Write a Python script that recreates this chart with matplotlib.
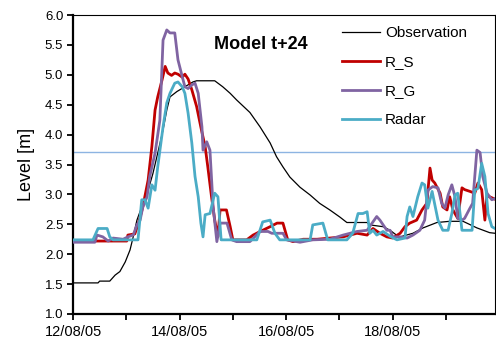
from datetime import datetime, timedelta

import matplotlib
matplotlib.use("Agg")
import matplotlib.pyplot as plt


START = datetime(2005, 8, 12)
END_DAYS = 7.92
THRESHOLD = 3.71

# days since 12/08/05 00:00, level in m
obs_t = [0, 0.47, 0.5, 0.69, 0.79, 0.88, 0.98, 1.07, 1.13, 1.2, 1.29, 1.41, 1.5, 1.59, 1.69,
         1.76, 1.82, 1.95, 2.1, 2.25, 2.32, 2.66, 2.81, 2.95, 3.07, 3.32, 3.51, 3.7, 3.82, 3.94,
         4.07, 4.26, 4.45, 4.63, 4.82, 5.01, 5.14, 5.52, 5.57, 5.82, 5.95, 6.07, 6.14, 6.38,
         6.57, 6.83, 7.07, 7.32, 7.58, 7.82, 7.92]
obs_v = [1.52, 1.52, 1.55, 1.55, 1.65, 1.71, 1.87, 2.07, 2.29, 2.57, 2.79, 3.07, 3.35, 3.69, 4.08,
         4.41, 4.63, 4.72, 4.8, 4.88, 4.9, 4.9, 4.8, 4.69, 4.58, 4.37, 4.13, 3.86, 3.63, 3.46,
         3.29, 3.12, 2.99, 2.85, 2.74, 2.62, 2.53, 2.53, 2.49, 2.46, 2.4, 2.32, 2.29, 2.35,
         2.44, 2.53, 2.55, 2.55, 2.44, 2.36, 2.35]

rs_t = [0, 1.01, 1.03, 1.16, 1.22, 1.31, 1.41, 1.48, 1.54, 1.59, 1.67, 1.73, 1.78, 1.85, 1.91,
        1.97, 2.05, 2.1, 2.16, 2.23, 2.32, 2.41, 2.48, 2.53, 2.6, 2.66, 2.72, 2.76, 2.88, 2.95,
        3.0, 3.26, 3.38, 3.56, 3.7, 3.83, 3.94, 4.03, 4.13, 4.32, 4.58, 4.82, 5.07, 5.33, 5.52,
        5.63, 5.76, 5.89, 6.0, 6.14, 6.23, 6.32, 6.45, 6.55, 6.64, 6.7, 6.74, 6.79, 6.89, 6.94,
        7.02, 7.07, 7.13, 7.22, 7.3, 7.35, 7.45, 7.54, 7.6, 7.67, 7.73, 7.77, 7.82, 7.92]
rs_v = [2.22, 2.22, 2.32, 2.34, 2.49, 2.79, 3.24, 3.8, 4.41, 4.63, 4.91, 5.14, 5.03, 4.99, 5.03,
        5.01, 4.96, 5.01, 4.93, 4.75, 4.47, 4.08, 3.8, 3.46, 2.96, 2.57, 2.29, 2.74, 2.74, 2.46,
        2.24, 2.24, 2.32, 2.4, 2.46, 2.52, 2.52, 2.24, 2.21, 2.25, 2.25, 2.27, 2.29, 2.35, 2.32,
        2.43, 2.35, 2.29, 2.27, 2.35, 2.46, 2.52, 2.57, 2.74, 2.85, 3.44, 3.24, 3.19, 3.02, 2.79,
        2.74, 2.96, 2.74, 2.6, 3.11, 3.08, 3.05, 3.02, 3.19, 3.08, 2.57, 2.99, 2.96, 2.92]

rg_t = [0, 0.41, 0.45, 0.56, 0.66, 0.75, 0.94, 1.03, 1.13, 1.2, 1.26, 1.31, 1.39, 1.44, 1.54,
        1.63, 1.69, 1.76, 1.82, 1.91, 1.97, 2.05, 2.1, 2.16, 2.23, 2.29, 2.35, 2.42, 2.44, 2.51,
        2.57, 2.63, 2.7, 2.76, 2.89, 2.98, 3.07, 3.32, 3.51, 3.66, 3.73, 3.94, 4.01, 4.2, 4.26,
        4.5, 4.82, 5.07, 5.33, 5.52, 5.7, 5.76, 5.89, 5.95, 6.0, 6.14, 6.27, 6.38, 6.51, 6.6,
        6.66, 6.75, 6.85, 6.92, 6.98, 7.04, 7.11, 7.17, 7.22, 7.3, 7.35, 7.45, 7.5, 7.58, 7.64,
        7.69, 7.77, 7.86, 7.92]
rg_v = [2.2, 2.2, 2.32, 2.29, 2.22, 2.27, 2.25, 2.29, 2.32, 2.49, 2.57, 2.79, 2.96, 3.3, 3.69,
        4.24, 5.58, 5.75, 5.7, 5.7, 5.25, 4.97, 4.8, 4.77, 4.83, 4.86, 4.69, 4.13, 3.74, 3.88,
        3.74, 2.79, 2.21, 2.52, 2.52, 2.24, 2.21, 2.21, 2.38, 2.38, 2.35, 2.35, 2.24, 2.21, 2.2,
        2.24, 2.25, 2.32, 2.38, 2.4, 2.63, 2.57, 2.4, 2.4, 2.29, 2.29, 2.27, 2.32, 2.4, 2.57,
        3.07, 3.13, 3.11, 2.85, 2.77, 2.99, 3.16, 2.96, 2.6, 2.57, 2.6, 2.77, 2.85, 3.74, 3.7,
        3.3, 3.02, 2.91, 2.93]

radar_t = [0, 0.375, 0.47, 0.64, 0.69, 0.75, 1.22, 1.29, 1.35, 1.41, 1.48, 1.54, 1.59, 1.69,
           1.76, 1.82, 1.91, 1.97, 2.05, 2.1, 2.16, 2.23, 2.29, 2.35, 2.4, 2.44, 2.48, 2.57,
           2.66, 2.72, 2.78, 3.45, 3.56, 3.7, 3.79, 3.88, 4.45, 4.5, 4.69, 4.78, 5.14, 5.25,
           5.35, 5.44, 5.52, 5.57, 5.63, 5.7, 5.82, 5.95, 6.08, 6.23, 6.27, 6.32, 6.38, 6.47,
           6.55, 6.6, 6.66, 6.74, 6.79, 6.85, 6.94, 7.04, 7.11, 7.17, 7.22, 7.3, 7.49, 7.54,
           7.6, 7.67, 7.73, 7.79, 7.86, 7.92]
radar_v = [2.24, 2.24, 2.43, 2.43, 2.29, 2.24, 2.24, 2.91, 2.91, 2.77, 3.16, 3.07, 3.46, 4.13,
           4.53, 4.69, 4.86, 4.88, 4.8, 4.69, 4.36, 3.86, 3.3, 2.96, 2.52, 2.29, 2.66, 2.68,
           3.02, 2.96, 2.24, 2.24, 2.54, 2.57, 2.35, 2.24, 2.24, 2.49, 2.52, 2.24, 2.24, 2.35,
           2.68, 2.68, 2.71, 2.35, 2.4, 2.32, 2.38, 2.3, 2.24, 2.27, 2.63, 2.79, 2.63, 2.96,
           3.19, 3.16, 2.77, 3.05, 2.83, 2.57, 2.4, 2.4, 2.68, 2.99, 3.02, 2.4, 2.4, 3.07,
           3.1, 3.52, 3.3, 2.68, 2.46, 2.43]

tick_labels = ["12/08/05", "14/08/05", "16/08/05", "18/08/05"]


def to_dates(days):
    return [START + timedelta(days=d) for d in days]


plt.rcParams["font.family"] = ["Liberation Sans", "DejaVu Sans"]

fig = plt.figure(figsize=(4.96, 3.40), dpi=100)
ax = fig.add_axes([73 / 496, 1 - 314 / 340, 422 / 496, 299 / 340])

ax.axhline(THRESHOLD, color="#8DB4E2", lw=1.0, zorder=1)
ax.plot(to_dates(obs_t), obs_v, color="black", lw=0.9, label="Observation", zorder=3)
ax.plot(to_dates(rs_t), rs_v, color="#C00000", lw=2.0, label="R_S", zorder=4)
ax.plot(to_dates(rg_t), rg_v, color="#8064A2", lw=2.0, label="R_G", zorder=5)
ax.plot(to_dates(radar_t), radar_v, color="#4BACC6", lw=2.0, label="Radar", zorder=6)

ax.set_xlim(START, START + timedelta(days=END_DAYS))
ax.set_ylim(1.0, 6.0)
ax.set_yticks([1.0 + 0.5 * i for i in range(11)])
ax.yaxis.set_major_formatter(matplotlib.ticker.FormatStrFormatter("%.1f"))

label_dates = [datetime.strptime(s, "%d/%m/%y") for s in tick_labels]
ax.set_xticks(label_dates)
ax.set_xticklabels(tick_labels)
ax.set_xticks([START + timedelta(days=d) for d in range(1, 8, 2)], minor=True)

ax.tick_params(axis="y", labelsize=9.5, length=4, width=1.3, direction="out", pad=3, colors="black")
ax.tick_params(axis="x", which="both", labelsize=10.5, length=4, width=1.3, direction="out", pad=4)
ax.set_ylabel("Level [m]", fontsize=13, labelpad=7)

ax.spines["left"].set_linewidth(1.6)
ax.spines["bottom"].set_linewidth(1.6)
ax.spines["top"].set_linewidth(0.8)
ax.spines["right"].set_linewidth(0.8)

ax.text(0.445, 0.9, "Model t+24", transform=ax.transAxes, ha="center", va="center",
        fontsize=13, fontweight="bold")

ax.legend(loc="upper left", bbox_to_anchor=(342 / 496, 1 - 26 / 340), bbox_transform=fig.transFigure,
          frameon=False, fontsize=11, handlelength=2.5, handletextpad=0.3, labelspacing=0.98,
          borderpad=0, borderaxespad=0)

fig.savefig("out.png", dpi=100)
